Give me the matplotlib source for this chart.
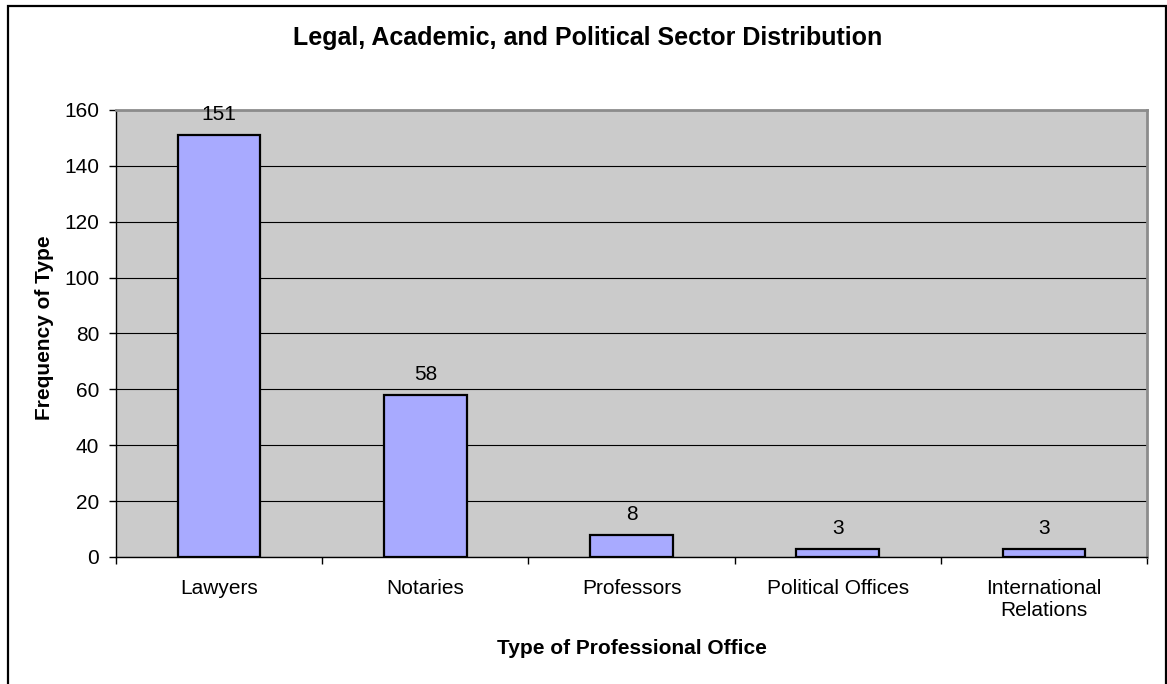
import matplotlib
matplotlib.use("Agg")
import matplotlib.pyplot as plt
from matplotlib.patches import Rectangle

categories = ["Lawyers", "Notaries", "Professors", "Political Offices", "International\nRelations"]
counts = [151, 58, 8, 3, 3]
y_ticks = [0, 20, 40, 60, 80, 100, 120, 140, 160]

plt.rcParams["font.family"] = ["Liberation Sans", "DejaVu Sans"]


def main():
    fig = plt.figure(figsize=(11.67, 6.84), dpi=100)
    ax = fig.add_axes([116 / 1167, 127 / 684, 1031 / 1167, 447 / 684])

    # outer chart border (bottom edge falls off the image)
    fig.patches.append(Rectangle((8 / 1167, -0.02), 1158 / 1167, 0.02 + 678 / 684,
                                 transform=fig.transFigure, fill=False,
                                 edgecolor="black", linewidth=1.6, clip_on=False))

    x = list(range(len(categories)))
    ax.set_facecolor("#CBCBCB")
    ax.bar(x, counts, width=0.4, color="#A8AAFF", edgecolor="black",
           linewidth=1.6, zorder=3)
    for xi, c in zip(x, counts):
        ax.annotate(str(c), (xi, c), xytext=(0, 8), textcoords="offset points",
                    ha="center", va="bottom", fontsize=15)

    ax.set_xlim(-0.5, len(categories) - 0.5)
    ax.set_ylim(0, 160)
    ax.set_yticks(y_ticks)
    ax.yaxis.grid(True, color="black", linewidth=0.8, zorder=1)
    ax.set_axisbelow(True)

    ax.set_xticks(x)
    ax.set_xticklabels(categories, fontsize=15)
    ax.set_xticks([i - 0.5 for i in range(len(categories) + 1)], minor=True)
    ax.tick_params(axis="x", which="major", length=0, pad=16)
    ax.tick_params(axis="x", which="minor", length=5, width=1, direction="out")
    ax.tick_params(axis="y", labelsize=15, length=5, width=1, pad=7)

    ax.spines["left"].set_color("black")
    ax.spines["bottom"].set_color("black")
    ax.spines["left"].set_linewidth(1)
    ax.spines["bottom"].set_linewidth(1)
    ax.spines["top"].set_color("#8C8C8C")
    ax.spines["right"].set_color("#8C8C8C")
    ax.spines["top"].set_linewidth(2)
    ax.spines["right"].set_linewidth(2)

    fig.text(588 / 1167, 1 - 45 / 684, "Legal, Academic, and Political Sector Distribution",
             ha="center", va="baseline", fontsize=18, fontweight="bold")
    fig.text(45 / 1167, 1 - 328 / 684, "Frequency of Type", rotation=90,
             ha="center", va="center", fontsize=15, fontweight="bold")
    fig.text(632 / 1167, 1 - 648 / 684, "Type of Professional Office",
             ha="center", va="center", fontsize=15, fontweight="bold")

    fig.savefig("out.png", dpi=100, facecolor="white")


if __name__ == "__main__":
    main()
